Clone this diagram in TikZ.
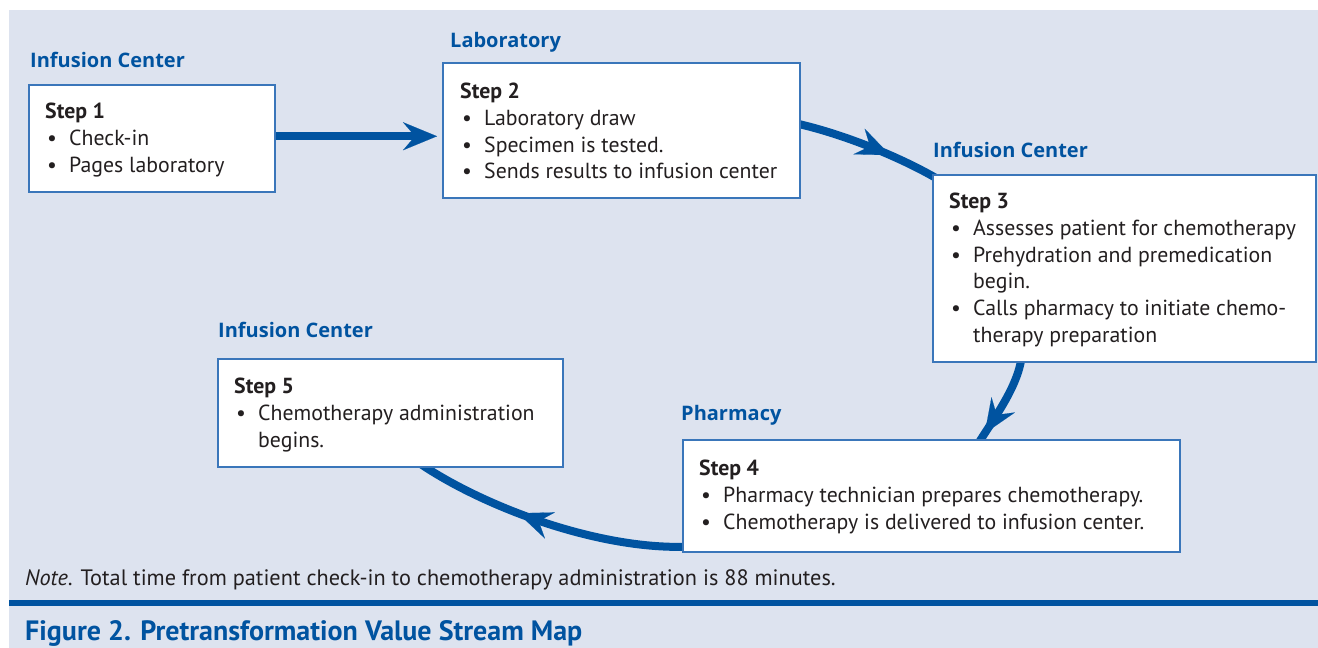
\documentclass[tikz,border=0pt]{standalone}
\usepackage{fontspec}
\setmainfont{PT Sans}
\newfontfamily\vsmlabfont{Open Sans}
\usetikzlibrary{arrows.meta,decorations.markings,calc}
\definecolor{bgc}{HTML}{DDE3EF}
\definecolor{dblue}{HTML}{0053A0}
\definecolor{bline}{HTML}{3A76BA}
\definecolor{tgray}{HTML}{231F20}
\pgfdeclarelayer{bg}\pgfdeclarelayer{arr}\pgfsetlayers{bg,arr,main}
\newcommand\vsmitem[1]{\par\hangindent=24pt\hangafter=1\noindent\makebox[24pt][l]{\hspace{2pt}•}#1}
\newcommand\vsmstep[1]{\noindent\textbf{#1}}
\tikzset{
  box/.style={draw=bline, line width=1.5pt, fill=white, inner sep=0pt, anchor=north west},
  txt/.style={inner sep=0pt, anchor=north west, text=tgray, font=\fontsize{21.8}{26.7}\selectfont},
  lab/.style={inner sep=0pt, anchor=base west, text=dblue, font=\vsmlabfont\bfseries\fontsize{20}{24}\selectfont},
  flow/.style={draw=dblue, line width=8pt},
  vsmtip/.tip={Stealth[length=34pt,width=28pt,inset=12pt,line width=0.1pt]},
  midarrow/.style={decoration={markings, mark=at position #1 with {\arrow{vsmtip}}}, postaction=decorate}
}
\begin{document}
\begin{tikzpicture}[x=1pt,y=-1pt]
\useasboundingbox (0,0) rectangle (1318,648);
\begin{pgfonlayer}{bg}
\fill[bgc] (9,10) rectangle (1318,648);
\fill[dblue] (9,600) rectangle (1318,605.5);
\end{pgfonlayer}

% boxes
\node[box, minimum width=246pt, minimum height=107pt] (s1) at (28,84) {};
\node[box, minimum width=357pt, minimum height=135pt] (s2) at (442,62) {};
\node[box, minimum width=383pt, minimum height=187pt] (s3) at (932,174) {};
\node[box, minimum width=497pt, minimum height=112pt] (s4) at (682,439) {};
\node[box, minimum width=345pt, minimum height=108pt] (s5) at (217,358) {};

% texts
\node[txt] (t1) at ($(s1.north west)+(17,19)$) {\parbox{225pt}{\vsmstep{Step 1}\vsmitem{Check-in}\vsmitem{Pages laboratory}}};
\node[txt] (t2) at ($(s2.north west)+(18,21)$) {\parbox{335pt}{\vsmstep{Step 2}\vsmitem{Laboratory draw}\vsmitem{Specimen is tested.}\vsmitem{Sends results to infusion center}}};
\node[txt] (t3) at ($(s3.north west)+(17,19)$) {\parbox{360pt}{\vsmstep{Step 3}\vsmitem{Assesses patient for chemotherapy}\vsmitem{Prehydration and premedication\\begin.}\vsmitem{Calls pharmacy to initiate chemo-\\therapy preparation}}};
\node[txt] (t4) at ($(s4.north west)+(17,21)$) {\parbox{475pt}{\vsmstep{Step 4}\vsmitem{Pharmacy technician prepares chemotherapy.}\vsmitem{Chemotherapy is delivered to infusion center.}}};
\node[txt] (t5) at ($(s5.north west)+(17,20)$) {\parbox{320pt}{\vsmstep{Step 5}\vsmitem{Chemotherapy administration\\begins.}}};

% labels
\node[lab] (l1) at (30,67) {Infusion Center};
\node[lab] (l2) at (450,47) {Laboratory};
\node[lab] (l3) at (933,157) {Infusion Center};
\node[lab] (l4) at (681,420) {Pharmacy};
\node[lab] (l5) at (218,337) {Infusion Center};

% connectors
\coordinate (a1s) at ([yshift=2pt]s1.east);
\begin{pgfonlayer}{arr}
\draw[flow, -{vsmtip}, shorten >=5pt] (a1s) -- (a1s -| s2.west);
\draw[flow, midarrow=0.6] ($(s2.east)+(-10,-8)$) .. controls +(50,10) and +(-40,-27) .. ($(s3.north west)+(20,14)$);
\draw[flow, midarrow=0.83] ($(s3.south west)+(90,-10)$) .. controls +(-2,34) and +(15,-26) .. ($(s4.north west)+(293,10)$);
\draw[flow, midarrow=0.61] ($(s4.south west)+(10,-6)$) .. controls +(-92,5) and +(63,44) .. ($(s5.south west)+(200,-6)$);
\end{pgfonlayer}

% note and title
\node[inner sep=0pt, anchor=base west, text=tgray, font=\fontsize{22.3}{26}\selectfont] (note) at (25,585) {\textit{Note}. Total time from patient check-in to chemotherapy administration is 88 minutes.};
\node[inner sep=0pt, anchor=base west, text=dblue, font=\bfseries\fontsize{28}{32}\selectfont] (title) at (25,640) {Figure 2. Pretransformation Value Stream Map};
\end{tikzpicture}
\end{document}
